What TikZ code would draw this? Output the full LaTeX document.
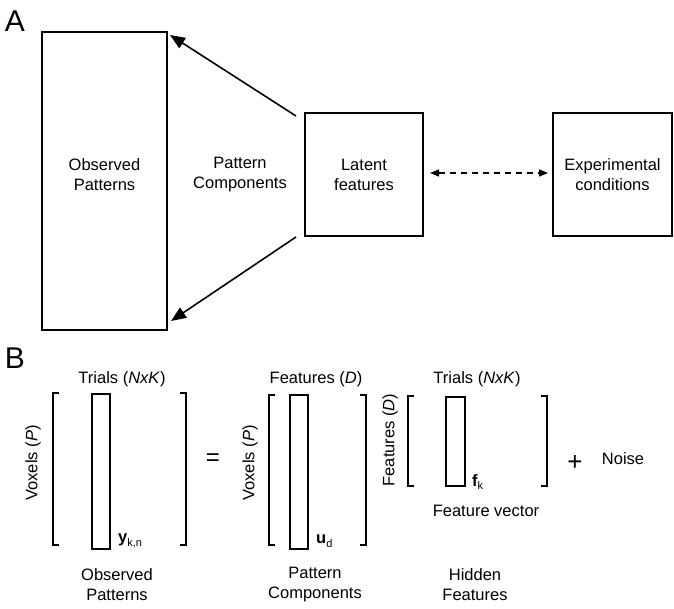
\documentclass[tikz,border=0pt]{standalone}
\usepackage{fontspec}
\setmainfont{Liberation Sans}
\usetikzlibrary{arrows.meta,calc}
\newcommand{\subtxt}[1]{\raisebox{-0.45ex}{\fontsize{11}{11}\selectfont #1}}
\begin{document}
\begin{tikzpicture}[x=1pt,y=-1pt,
  box/.style={draw,line width=1.6pt,inner sep=0pt,align=center,font=\fontsize{16.5}{20}\selectfont},
  lbl/.style={font=\fontsize{16.5}{20}\selectfont,align=center,inner sep=0pt},
  brk/.style={line width=2.8pt},
  vec/.style={draw,line width=1.2pt,inner sep=0pt},
  bigarrow/.style={line width=1.6pt,-{Triangle[length=15pt,width=12pt]}},
  dasharrow/.style={line width=1.4pt,dashed,dash pattern=on 6pt off 5pt,{Triangle[length=9pt,width=7pt]}-{Triangle[length=9pt,width=7pt]}},
  panel/.style={font=\fontsize{30}{30}\selectfont,inner sep=0pt}
]
\useasboundingbox (0,0) rectangle (674,609);

% ---------------- Panel A ----------------
\node[panel] (A) at (15,21) {A};
\node[box,minimum width=125pt,minimum height=298pt] (obs) at (104.5,181) {};
\node[lbl] (obslab) at (104.5,175) {Observed\\Patterns};
\node[lbl] (pc) at (240,175) {Pattern\\Components};
\node[box,minimum width=118pt,minimum height=123pt] (lat) at (364,174.5) {Latent\\features};
\node[box,minimum width=119pt,minimum height=123pt] (exp) at (612.5,174.5) {Experimental\\conditions};

\coordinate (s1) at (296,116);
\coordinate (e1) at (170,35);
\coordinate (s2) at (296,237);
\coordinate (e2) at (171,321);
\draw[bigarrow] (s1) -- (e1);
\draw[bigarrow] (s2) -- (e2);
\coordinate (d1) at (430,173);
\coordinate (d2) at (548,173);
\draw[dasharrow] (d1) -- (d2);

% ---------------- Panel B ----------------
\node[panel] (B) at (15,358) {B};

% first matrix
\node[lbl] (t1) at (122,379) {Trials (\textit{NxK})};
\node[lbl,rotate=90] (v1) at (33,463) {Voxels (\textit{P})};
\draw[brk] (59,393) -- (53,393) -- (53,545) -- (59,545);
\draw[brk] (180,393) -- (186,393) -- (186,545) -- (180,545);
\node[vec,minimum width=18pt,minimum height=155pt] (y) at (101,471.5) {};
\node[lbl,anchor=west] (ylab) at (118,541) {\textbf{y}\subtxt{k,n}};
\node[lbl] (o1) at (117,585) {Observed\\Patterns};

\node[lbl,font=\fontsize{24}{24}\selectfont] (eq) at (213,460) {=};

% second matrix
\node[lbl] (t2) at (316,379) {Features (\textit{D})};
\node[lbl,rotate=90] (v2) at (250,463) {Voxels (\textit{P})};
\draw[brk] (275,395) -- (269,395) -- (269,545) -- (275,545);
\draw[brk] (360,395) -- (366,395) -- (366,545) -- (360,545);
\node[vec,minimum width=18pt,minimum height=154pt] (u) at (299,472) {};
\node[lbl,anchor=west] (ulab) at (316,541) {\textbf{u}\subtxt{d}};
\node[lbl] (o2) at (315,585) {Pattern\\Components};

% third matrix
\node[lbl] (t3) at (477,379) {Trials (\textit{NxK})};
\node[lbl,rotate=90] (v3) at (390,440) {Features (\textit{D})};
\draw[brk] (414,396) -- (408,396) -- (408,486) -- (414,486);
\draw[brk] (541,396) -- (547,396) -- (547,486) -- (541,486);
\node[vec,minimum width=19pt,minimum height=89pt] (f) at (455.5,441.5) {};
\node[lbl,anchor=west] (flab) at (472,482) {\textbf{f}\subtxt{k}};
\node[lbl] (fv) at (486,511) {Feature vector};
\node[lbl] (o3) at (475,585) {Hidden\\Features};

\node[lbl,font=\fontsize{26}{26}\selectfont] (plus) at (575,463) {+};
\node[lbl] (noise) at (623,459) {Noise};
\end{tikzpicture}
\end{document}
